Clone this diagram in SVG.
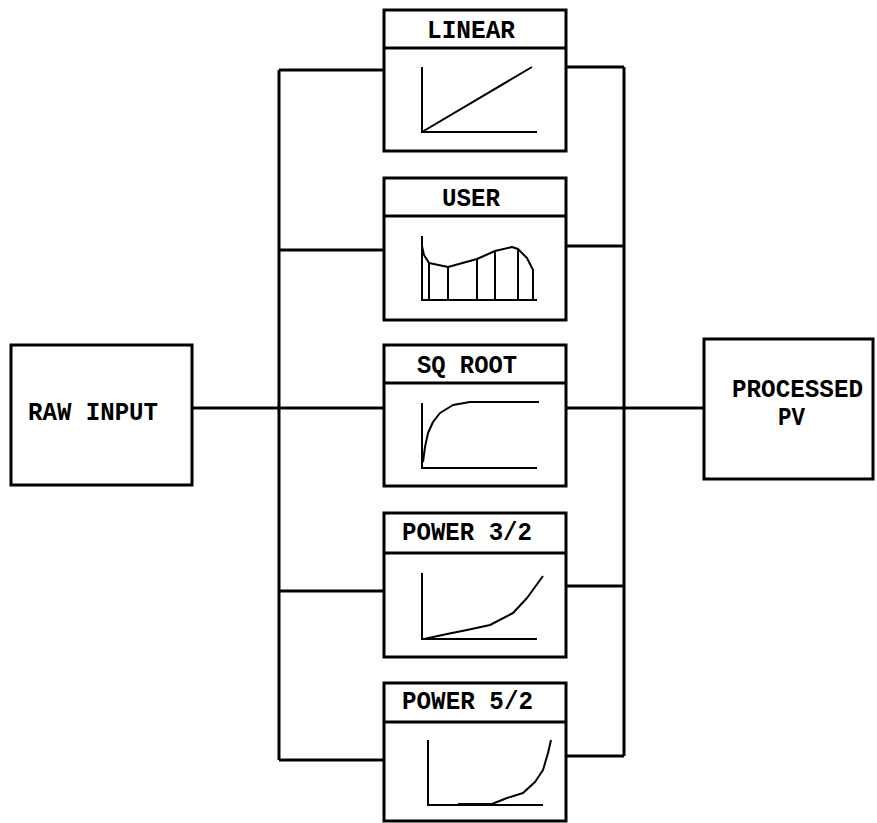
<svg xmlns="http://www.w3.org/2000/svg" width="877" height="823" viewBox="0 0 877 823">
<style>
.box{fill:#fff;stroke:#000;stroke-width:3}
.div{stroke:#000;stroke-width:3}
.wire{fill:none;stroke:#000;stroke-width:3}
.ax{fill:none;stroke:#000;stroke-width:2}
.cv{fill:none;stroke:#000;stroke-width:2;stroke-linejoin:round}
.t{font-family:"Liberation Mono","DejaVu Sans Mono",monospace;font-weight:bold;font-size:25px;fill:#000}
</style>
<rect width="877" height="823" fill="#fff"/>
<g id="connectors">
<path class="wire" d="M279 70V760M192 408H384M279 70H384M279 250H384M279 591H384M279 760H384"/>
<path class="wire" d="M624 67V756M566 408H704M566 67H624M566 246H624M566 586H624M566 756H624"/>
</g>
<g id="raw-input">
<rect class="box" x="11" y="345" width="181" height="140"/>
<text class="t" x="28" y="420" textLength="130" lengthAdjust="spacingAndGlyphs">RAW INPUT</text>
</g>
<g id="processed-pv">
<rect class="box" x="704" y="339" width="169" height="140"/>
<text class="t" x="732" y="397" textLength="131" lengthAdjust="spacingAndGlyphs">PROCESSED</text>
<text class="t" x="778" y="425" textLength="27" lengthAdjust="spacingAndGlyphs">PV</text>
</g>
<g id="linear">
<rect class="box" x="384" y="10" width="182" height="141"/>
<line class="div" x1="384" y1="48" x2="566" y2="48"/>
<text class="t" x="427" y="38" textLength="88" lengthAdjust="spacingAndGlyphs">LINEAR</text>
<path class="ax" d="M422 67V132H537"/>
<path class="cv" d="M422 132L532 67"/>
</g>
<g id="user">
<rect class="box" x="384" y="178" width="182" height="142"/>
<line class="div" x1="384" y1="216" x2="566" y2="216"/>
<text class="t" x="442" y="206" textLength="58" lengthAdjust="spacingAndGlyphs">USER</text>
<path class="ax" d="M422 236V300H537"/>
<path class="cv" d="M422 246L424 255L429 263L448 267L477 259L495 251L512 247L518 249L527 258L533 270L533 273"/>
<path class="ax" d="M429 263V300M448 267V300M477 259V300M495 251V300M518 249V300M533 270V300"/>
</g>
<g id="sq-root">
<rect class="box" x="384" y="345" width="182" height="141"/>
<line class="div" x1="384" y1="383" x2="566" y2="383"/>
<text class="t" x="417" y="373" textLength="100" lengthAdjust="spacingAndGlyphs">SQ ROOT</text>
<path class="ax" d="M422 403V468H537"/>
<path class="cv" d="M423 462L425 447L428 433L433 422L440 413L453 405L470 402L539 402"/>
</g>
<g id="power-3-2">
<rect class="box" x="384" y="513" width="182" height="144"/>
<line class="div" x1="384" y1="553" x2="566" y2="553"/>
<text class="t" x="402" y="540" textLength="130" lengthAdjust="spacingAndGlyphs">POWER 3/2</text>
<path class="ax" d="M422 573V639H537"/>
<path class="cv" d="M424 639L447 634L467 630L490 625L513 613L527 598L543 576"/>
</g>
<g id="power-5-2">
<rect class="box" x="384" y="683" width="182" height="138"/>
<line class="div" x1="384" y1="722" x2="566" y2="722"/>
<text class="t" x="402" y="709" textLength="131" lengthAdjust="spacingAndGlyphs">POWER 5/2</text>
<path class="ax" d="M428 740V805H543"/>
<path class="cv" d="M458 804H492L507 798L523 793L535 782L543 770L548 753L551 740" stroke-width="2.5"/>
</g>
</svg>
